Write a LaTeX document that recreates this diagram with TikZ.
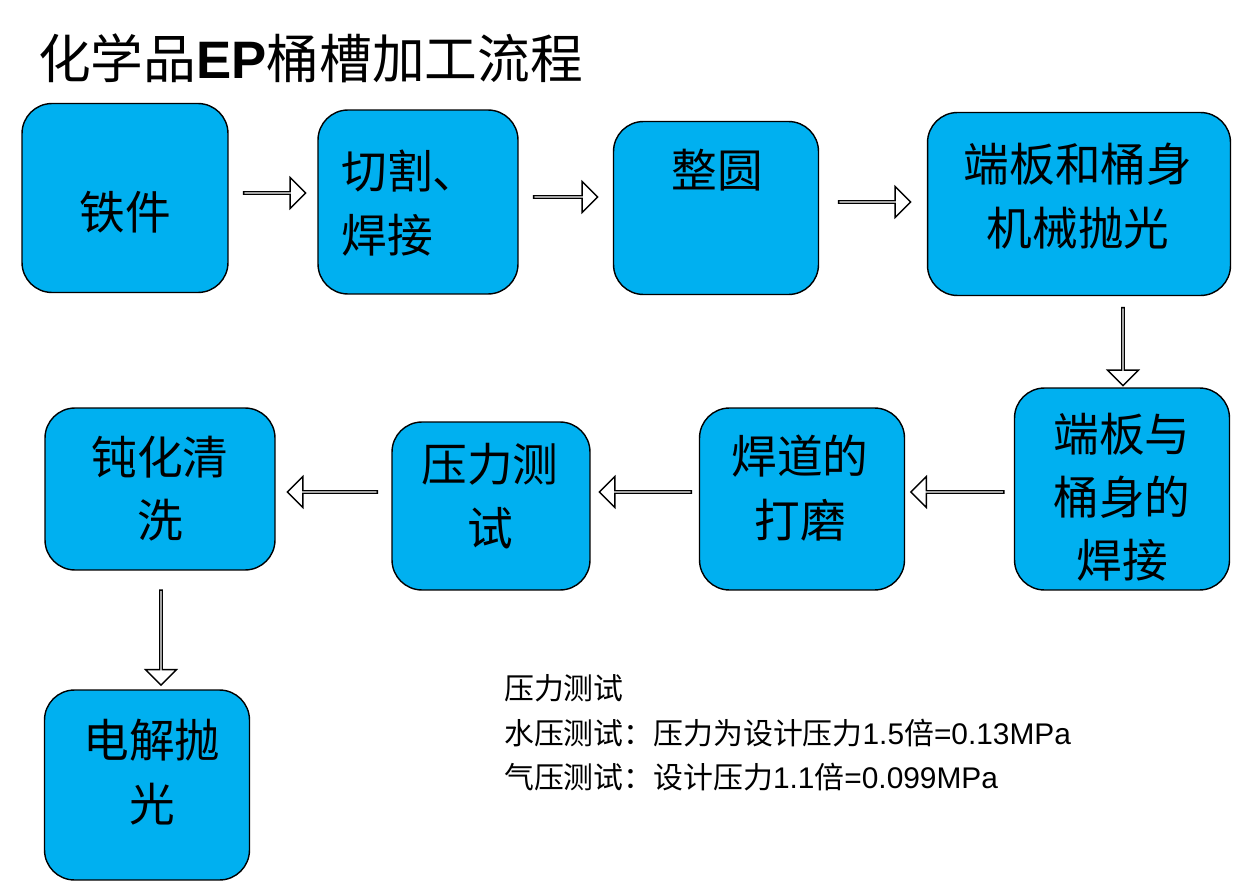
\documentclass[tikz,border=0pt]{standalone}
\usepackage{fontspec}
\setmainfont{Liberation Sans}
\newfontfamily\cjk{Noto Sans CJK SC}
\usetikzlibrary{shapes.arrows}
\definecolor{boxblue}{RGB}{0,176,240}
\tikzset{
  box/.style={draw=black, thick, fill=boxblue, rounded corners=0.6cm},
  boxtext/.style={font=\cjk\fontsize{26}{36}\selectfont, align=center},
  harrow/.style={single arrow, draw=black, thick, fill=white, minimum width=0.62cm,
    single arrow head extend=0.16cm, inner sep=0pt, minimum height=#1},
  varrow/.style={harrow=#1, shape border rotate=270}
}
\begin{document}
\begin{tikzpicture}[x=0.02cm,y=-0.02cm]
  \useasboundingbox (0,0) rectangle (1239,881);
  % title
  \node[anchor=west, font=\fontsize{30}{36}\selectfont] (title) at (32,58)
    {{\cjk 化学品}\textbf{EP}{\cjk 桶槽加工流程}};
  % boxes
  \node[box, minimum width=4.12cm, minimum height=3.78cm] (b1) at (125,198) {};
  \node[box, minimum width=4.00cm, minimum height=3.68cm] (b2) at (418,202) {};
  \node[box, minimum width=4.10cm, minimum height=3.46cm] (b3) at (716,208) {};
  \node[box, minimum width=6.06cm, minimum height=3.66cm] (b4) at (1079,204) {};
  \node[box, minimum width=4.30cm, minimum height=4.04cm] (b5) at (1122,489) {};
  \node[box, minimum width=4.10cm, minimum height=3.64cm] (b6) at (802,499) {};
  \node[box, minimum width=3.96cm, minimum height=3.36cm] (b7) at (491,506) {};
  \node[box, minimum width=4.60cm, minimum height=3.24cm] (b8) at (160,489) {};
  \node[box, minimum width=4.10cm, minimum height=3.80cm] (b9) at (147,785) {};
  % texts
  \node[boxtext] (t1) at (125,212) {铁件};
  \node[boxtext, align=left] (t2) at (410,203) {切割、\\焊接};
  \node[boxtext] (t3) at (717,170) {整圆};
  \node[boxtext] (t4) at (1078,196) {端板和桶身\\机械抛光};
  \node[boxtext] (t5) at (1122,497) {端板与\\桶身的\\焊接};
  \node[boxtext] (t6) at (800,488) {焊道的\\打磨};
  \node[boxtext] (t7) at (490,496) {压力测\\试};
  \node[boxtext] (t8) at (160,489) {钝化清\\洗};
  \node[boxtext] (t9) at (152,772) {电解抛\\光};
  % arrows
  \node[harrow=1.24cm] (a12) at (274,193) {};
  \node[harrow=1.28cm] (a23) at (565,197) {};
  \node[harrow=1.44cm] (a34) at (874,202) {};
  \node[varrow=1.56cm] (a45) at (1123,346) {};
  \node[harrow=1.86cm, shape border rotate=180] (a56) at (958,492) {};
  \node[harrow=1.84cm, shape border rotate=180] (a67) at (646,492) {};
  \node[harrow=1.80cm, shape border rotate=180] (a78) at (333,492) {};
  \node[varrow=1.90cm] (a89) at (161,637) {};
  % note
  \node[anchor=north west, align=left, font=\fontsize{17}{25.5}\selectfont] (note) at (498,668)
    {{\cjk 压力测试}\\
     {\cjk 水压测试：压力为设计压力}1.5{\cjk 倍}=0.13MPa\\
     {\cjk 气压测试：设计压力}1.1{\cjk 倍}=0.099MPa};
\end{tikzpicture}
\end{document}
